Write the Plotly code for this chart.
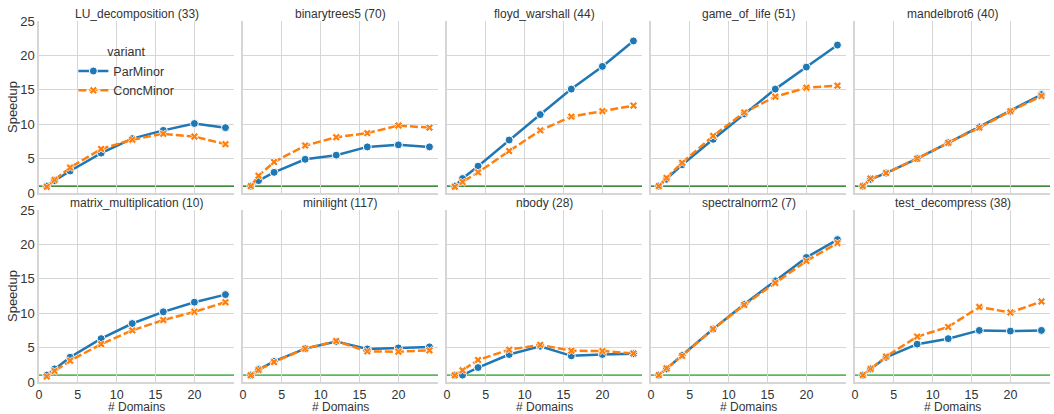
import plotly.graph_objects as go
from plotly.subplots import make_subplots

domains = [1, 2, 4, 8, 12, 16, 20, 24]

benchmarks = [
    "LU_decomposition (33)", "binarytrees5 (70)", "floyd_warshall (44)", "game_of_life (51)", "mandelbrot6 (40)",
    "matrix_multiplication (10)", "minilight (117)", "nbody (28)", "spectralnorm2 (7)", "test_decompress (38)",
]

par_minor = [
    [1.0, 1.8, 3.2, 5.8, 7.9, 9.1, 10.1, 9.5],
    [1.0, 1.8, 3.0, 4.9, 5.5, 6.7, 7.0, 6.7],
    [1.0, 2.1, 3.9, 7.7, 11.4, 15.1, 18.4, 22.1],
    [1.0, 2.0, 4.1, 7.8, 11.5, 15.1, 18.3, 21.5],
    [1.0, 2.0, 2.9, 5.0, 7.3, 9.6, 11.9, 14.3],
    [1.0, 1.9, 3.6, 6.3, 8.5, 10.2, 11.6, 12.7],
    [1.0, 1.8, 3.0, 4.85, 5.9, 4.8, 4.95, 5.1],
    [1.0, 1.0, 2.1, 4.0, 5.2, 3.8, 4.0, 4.1],
    [1.0, 1.9, 3.9, 7.7, 11.3, 14.7, 18.1, 20.7],
    [1.0, 1.9, 3.6, 5.5, 6.3, 7.5, 7.4, 7.5],
]

conc_minor = [
    [0.9, 1.9, 3.7, 6.4, 7.75, 8.6, 8.2, 7.1],
    [1.0, 2.5, 4.5, 6.9, 8.1, 8.7, 9.8, 9.5],
    [0.9, 1.6, 3.0, 6.1, 9.1, 11.1, 11.9, 12.7],
    [1.0, 2.2, 4.4, 8.3, 11.7, 14.0, 15.3, 15.6],
    [1.0, 2.1, 2.9, 5.0, 7.3, 9.5, 11.9, 14.1],
    [0.8, 1.6, 3.1, 5.5, 7.5, 9.0, 10.2, 11.6],
    [0.97, 1.75, 2.9, 4.85, 5.95, 4.45, 4.4, 4.6],
    [0.97, 1.7, 3.2, 4.7, 5.4, 4.55, 4.5, 4.15],
    [1.0, 2.0, 3.8, 7.7, 11.2, 14.4, 17.6, 20.2],
    [1.0, 1.9, 3.7, 6.6, 8.0, 10.9, 10.1, 11.7],
]

y_ticks = [0, 5, 10, 15, 20, 25]
x_ticks = [0, 5, 10, 15, 20]

BLUE = "#1f77b4"
ORANGE = "#ff7f0e"
GRID = "#d6d6d6"
FONT = "Liberation Sans, Arial, sans-serif"

fig = make_subplots(
    rows=2, cols=5,
    horizontal_spacing=9 / 1011,
    vertical_spacing=17 / 361,
    subplot_titles=benchmarks,
)

for i, name in enumerate(benchmarks):
    r, c = i // 5 + 1, i % 5 + 1
    fig.add_trace(go.Scatter(
        x=domains, y=par_minor[i], mode="lines+markers", name="ParMinor",
        legendgroup="par", showlegend=(i == 0),
        line=dict(color=BLUE, width=2.5),
        marker=dict(symbol="circle", size=8, color=BLUE, line=dict(color="white", width=1)),
    ), row=r, col=c)
    fig.add_trace(go.Scatter(
        x=domains, y=conc_minor[i], mode="lines+markers", name="ConcMinor",
        legendgroup="conc", showlegend=(i == 0),
        line=dict(color=ORANGE, width=2.5, dash="8px,3px"),
        marker=dict(symbol="x", size=7, color=ORANGE, line=dict(color="white", width=0.8)),
    ), row=r, col=c)
    # baseline speedup = 1
    fig.add_hline(
        y=1, row=r, col=c,
        line=dict(color="#006400" if r == 1 else "#5cb85c", width=1.2 if r == 1 else 1.8),
        layer="below",
    )

fig.update_xaxes(
    range=[0, 25.1], tickvals=x_ticks, showgrid=True, gridcolor=GRID, gridwidth=1,
    showline=True, linecolor=GRID, linewidth=1.5, zeroline=False, ticks="", ticklen=0,
    tickfont=dict(size=12.5, color="#333"), automargin=False,
)
fig.update_yaxes(
    range=[0, 25], tickvals=y_ticks, showgrid=True, gridcolor=GRID, gridwidth=1,
    showline=True, linecolor=GRID, linewidth=1.5, zeroline=False, ticks="",
    tickfont=dict(size=13, color="#333"), automargin=False,
)
for c in range(1, 6):
    fig.update_xaxes(showticklabels=False, row=1, col=c)
    for r in (1, 2):
        if c > 1:
            fig.update_yaxes(showticklabels=False, row=r, col=c)
for r in (1, 2):
    fig.update_yaxes(title=dict(text="Speedup", font=dict(size=13, color="#333"), standoff=0), row=r, col=1)

for ann in fig.layout.annotations:
    ann.font = dict(size=12, color="#333", family=FONT)
    ann.yshift = -2

# x axis titles under the bottom row, placed by hand to sit tight under the ticks
for c in range(1, 6):
    dom = fig.get_subplot(2, c).xaxis.domain
    fig.add_annotation(
        text="# Domains", xref="paper", yref="paper",
        x=(dom[0] + dom[1]) / 2, xanchor="center",
        y=-0.069, yanchor="middle",
        showarrow=False, font=dict(size=12, color="#333", family=FONT),
    )

fig.update_layout(
    width=1054, height=414,
    margin=dict(l=39, r=4, t=21, b=32, autoexpand=False),
    plot_bgcolor="white", paper_bgcolor="white",
    font=dict(family=FONT, color="#333"),
    legend=dict(
        title=dict(text="variant", font=dict(size=12.5), side="top center"),
        x=0.034, y=0.947, xanchor="left", yanchor="top",
        bgcolor="rgba(0,0,0,0)", font=dict(size=12.5), tracegroupgap=0,
        itemwidth=30,
    ),
)

# drop the default body margin so the figure sits at the window's corner
fig.write_html(
    "out.html",
    config={"displayModeBar": False},
    post_script="document.body.style.margin='0';",
)
